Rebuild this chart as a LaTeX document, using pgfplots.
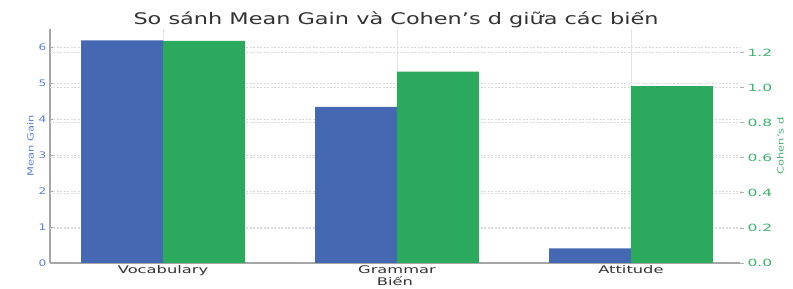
\documentclass[border=0pt]{standalone}
\usepackage{pgfplots}
\pgfplotsset{compat=1.18}
\usepackage{fontspec}
\setmainfont{DejaVu Sans}
\newfontfamily\titlefont[FakeStretch=1.4]{DejaVu Sans}
\newfontfamily\xfont[FakeStretch=1.55]{DejaVu Sans}
\newfontfamily\lfont[FakeStretch=1.35]{DejaVu Sans}
\definecolor{cblue}{HTML}{4468B1}
\definecolor{cgreen}{HTML}{2BAA5E}
\definecolor{tblue}{HTML}{5B7FD3}
\definecolor{tgreen}{HTML}{3CB56E}
\begin{document}
\begin{tikzpicture}
\useasboundingbox (0,0) rectangle (793pt,289pt);
\begin{axis}[
 at={(50pt,26pt)}, anchor=south west, scale only axis, width=690pt, height=234pt,
 xmin=-0.483, xmax=2.466, ymin=0, ymax=6.52,
 axis x line*=bottom, axis y line*=left,
 axis line style={gray!70, line width=1.1pt},
 xtick={0,1,2}, xticklabels={Vocabulary,Grammar,Attitude},
 xtick style={draw=none},
 xticklabel style={font=\xfont\fontsize{10.5}{12}\selectfont, text=black!80, yshift=1pt},
 ytick={0,1,2,3,4,5,6},
 ytick style={gray!70, line width=0.6pt}, tick align=inside, major tick length=3pt,
 yticklabel style={font=\lfont\fontsize{9}{10}\selectfont, text=tblue},
 /pgf/number format/assume math mode=true,
 xmajorgrids, ymajorgrids,
 x grid style={gray!20, line width=0.5pt},
 y grid style={gray!28, dash pattern=on 2pt off 1.5pt, line width=0.5pt},
 extra y ticks={0.978,1.956,2.935,3.913,4.891,5.869},
 extra y tick labels={},
 extra y tick style={grid=major, major tick length=0pt},
 xlabel={Biến}, xlabel style={font=\xfont\fontsize{10.5}{12}\selectfont, text=black!80, yshift=6pt},
 ylabel={Mean Gain}, ylabel style={font=\lfont\fontsize{8.5}{10}\selectfont, text=tblue, yshift=-2pt},
]
\addplot[ybar, bar width=81.9pt, bar shift=-40.95pt, fill=cblue, draw=none] coordinates {(0,6.2) (1,4.35) (2,0.41)};
\end{axis}
\begin{axis}[
 at={(50pt,26pt)}, anchor=south west, scale only axis, width=690pt, height=234pt,
 xmin=-0.483, xmax=2.466, ymin=0, ymax=1.333,
 axis y line*=right, axis x line=none,
 axis line style={draw=none},
 ytick={0,0.2,0.4,0.6,0.8,1.0,1.2},
 /pgf/number format/assume math mode=true,
 yticklabel style={font=\xfont\fontsize{10}{11}\selectfont, text=tgreen, /pgf/number format/.cd, fixed, fixed zerofill, precision=1},
 ytick style={gray!60, line width=0.6pt}, tick align=outside, major tick length=4pt,
 ylabel={Cohen’s d}, ylabel style={font=\lfont\fontsize{8.5}{10}\selectfont, text=tgreen, yshift=2pt},
]
\addplot[ybar, bar width=81.9pt, bar shift=40.95pt, fill=cgreen, draw=none] coordinates {(0,1.265) (1,1.09) (2,1.008)};
\end{axis}
\node[font=\titlefont\fontsize{16}{18}\selectfont, text=black!80, anchor=base] at (396pt,264pt) {So sánh Mean Gain và Cohen’s d giữa các biến};
\end{tikzpicture}
\end{document}
